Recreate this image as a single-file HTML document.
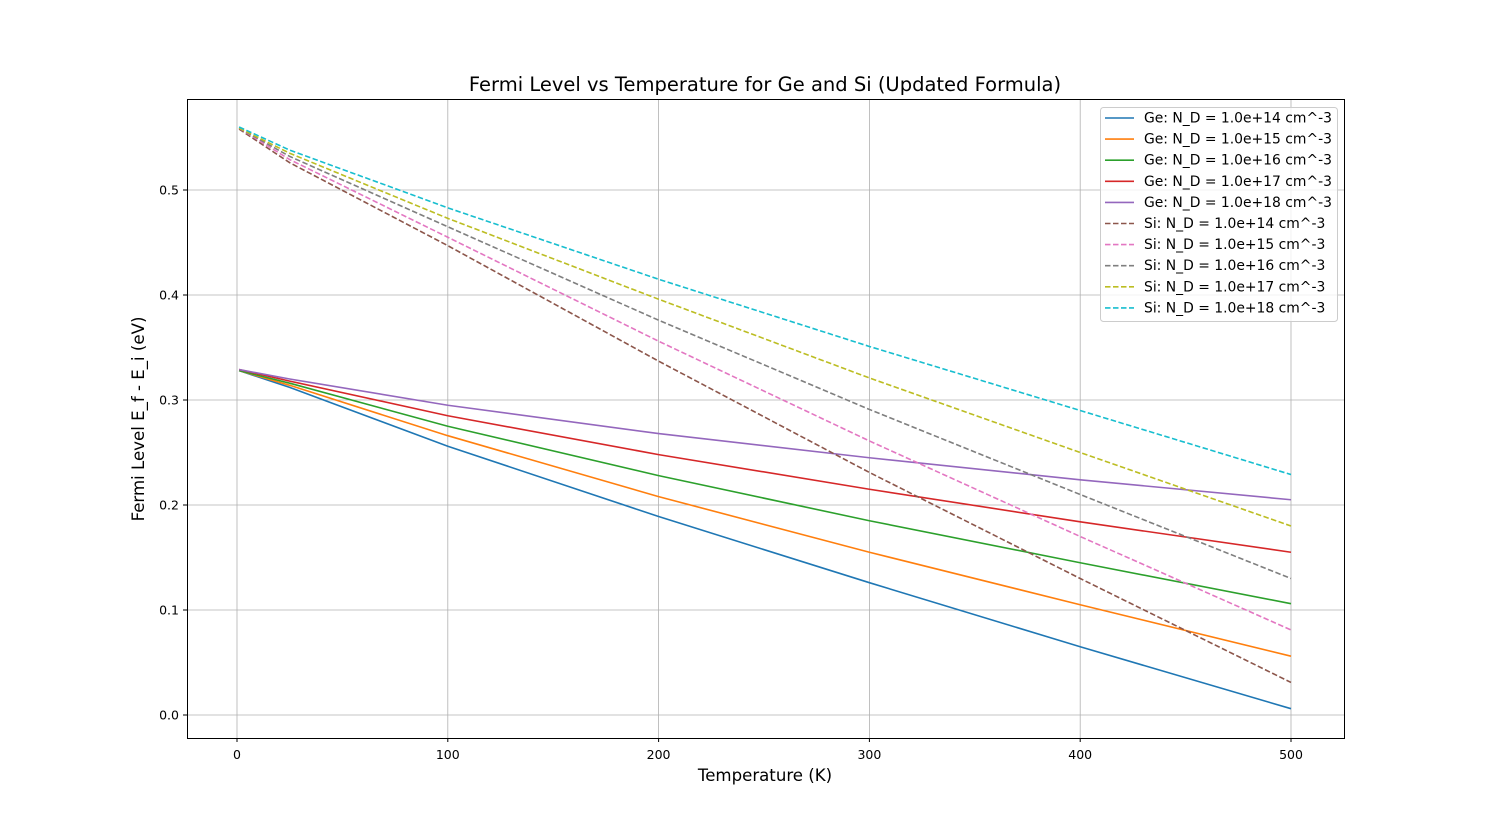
<!DOCTYPE html>
<html><head><meta charset="utf-8"><style>
body{margin:0;background:#fff;}
svg{display:block;font-family:"DejaVu Sans","Liberation Sans",sans-serif;}
</style></head><body>
<svg id="chart" width="1493" height="829" xmlns="http://www.w3.org/2000/svg">
<rect width="1493" height="829" fill="#fff"/>
<g id="grid"></g>
<g id="series"></g>
<rect x="187.5" y="99.5" width="1157" height="639" fill="none" stroke="#000" stroke-width="1"/>
<g id="axes"></g>
<text x="765" y="91" text-anchor="middle" font-size="19.5">Fermi Level vs Temperature for Ge and Si (Updated Formula)</text>
<text x="765" y="781" text-anchor="middle" font-size="16.6">Temperature (K)</text>
<text transform="translate(144,419) rotate(-90)" text-anchor="middle" font-size="16.6">Fermi Level E_f - E_i (eV)</text>
<g id="legend"></g>
</svg>
<script>
const temps = [1, 25, 100, 200, 300, 400, 500];
const labels = ["Ge: N_D = 1.0e+14 cm^-3","Ge: N_D = 1.0e+15 cm^-3","Ge: N_D = 1.0e+16 cm^-3","Ge: N_D = 1.0e+17 cm^-3","Ge: N_D = 1.0e+18 cm^-3","Si: N_D = 1.0e+14 cm^-3","Si: N_D = 1.0e+15 cm^-3","Si: N_D = 1.0e+16 cm^-3","Si: N_D = 1.0e+17 cm^-3","Si: N_D = 1.0e+18 cm^-3"];
const geValues = [
 [0.328,0.312,0.256,0.189,0.126,0.065,0.006],
 [0.328,0.314,0.266,0.208,0.155,0.105,0.056],
 [0.328,0.316,0.275,0.228,0.185,0.145,0.106],
 [0.329,0.318,0.285,0.248,0.215,0.184,0.155],
 [0.329,0.320,0.295,0.268,0.245,0.224,0.205]
];
const siValues = [
 [0.558,0.526,0.447,0.337,0.231,0.130,0.031],
 [0.559,0.529,0.455,0.356,0.261,0.170,0.081],
 [0.559,0.532,0.465,0.376,0.291,0.210,0.130],
 [0.559,0.535,0.473,0.396,0.321,0.250,0.180],
 [0.560,0.538,0.483,0.415,0.351,0.290,0.229]
];
const xTicks = [0,100,200,300,400,500];
const yTicks = [0.0,0.1,0.2,0.3,0.4,0.5];
const colors = ["#1f77b4","#ff7f0e","#2ca02c","#d62728","#9467bd","#8c564b","#e377c2","#7f7f7f","#bcbd22","#17becf"];
const NS="http://www.w3.org/2000/svg";
const X = t => 237 + t*(1291-237)/500;
const Y = v => 715 - v*(715-190)/0.5;
function mk(tag, attrs, parent){const e=document.createElementNS(NS,tag);for(const k in attrs)e.setAttribute(k,attrs[k]);parent.appendChild(e);return e;}
const grid=document.getElementById('grid'), axes=document.getElementById('axes'), ser=document.getElementById('series'), leg=document.getElementById('legend');
xTicks.forEach(t=>{
  const g=mk('line',{x1:X(t),x2:X(t),y1:99,y2:738,stroke:'#b0b0b0','stroke-width':0.8},grid);
  
  
  mk('line',{x1:X(t),x2:X(t),y1:738,y2:742,stroke:'#000'},axes);
  const l=mk('text',{x:X(t),y:759,'text-anchor':'middle','font-size':12.5},axes);
  l.textContent=t;
  
  
});
yTicks.forEach(v=>{
  const g=mk('line',{x1:187,x2:1344,y1:Y(v),y2:Y(v),stroke:'#b0b0b0','stroke-width':0.8},grid);
  
  
  mk('line',{x1:183,x2:187,y1:Y(v),y2:Y(v),stroke:'#000'},axes);
  const l=mk('text',{x:179,y:Y(v)+4.5,'text-anchor':'end','font-size':12.5},axes);
  l.textContent=v.toFixed(1);
  
  
});
const all=geValues.concat(siValues);
all.forEach((vals,i)=>{
  const d=vals.map((v,j)=>(j?'L':'M')+X(temps[j])+','+Y(v)).join(' ');
  const p=mk('path',{d:d,fill:'none',stroke:colors[i],'stroke-width':1.6},ser);
  if(i>=5)p.setAttribute('stroke-dasharray','5.5,2.5');
  
  
});
const lb=mk('rect',{x:1100.5,y:107.5,width:237,height:214,rx:3,fill:'#fff','fill-opacity':0.8,stroke:'#ccc'},leg);


labels.forEach((s,i)=>{
  const y=118+i*21.1;
  const l=mk('line',{x1:1105,x2:1134,y1:y,y2:y,stroke:colors[i],'stroke-width':1.6},leg);
  if(i>=5)l.setAttribute('stroke-dasharray','5.5,2.5');
  const t=mk('text',{x:1144,y:y+4.5,'font-size':13.9},leg);
  t.textContent=s;
  
  
});
</script>
</body></html>
